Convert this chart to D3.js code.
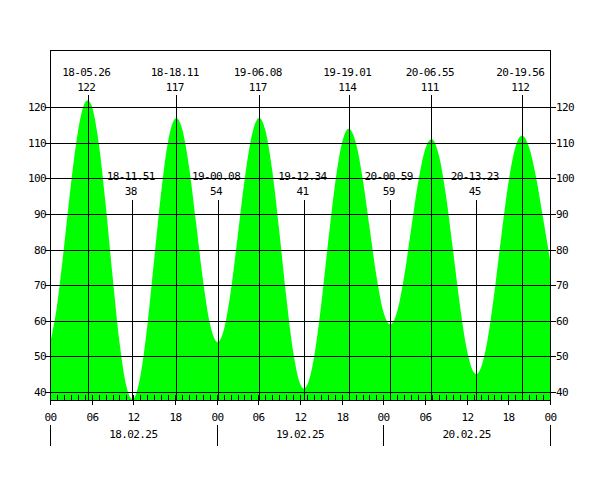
<!DOCTYPE html>
<html><head><meta charset="utf-8">
<script src="https://cdn.jsdelivr.net/npm/d3@7"></script>
<style>body{margin:0;background:#fff}</style>
</head><body><svg id="c" width="600" height="500"></svg>
<script>
// hourly readings, 18.02.25 00:00 .. 21.02.25 00:00
const hourlyValues = [53.6,64.1,80.4,98.1,112.9,121.2,120.4,110.2,93.0,72.7,54.1,41.6,
  38.1,44.3,58.4,77.2,96.0,110.4,116.8,114.1,103.6,88.1,71.9,59.5,
  54.1,57.2,67.9,83.3,99.3,111.6,116.9,113.6,102.3,85.5,67.1,51.6,
  42.4,41.8,49.5,63.7,81.2,97.7,109.6,114.0,110.4,100.3,86.5,72.7,
  62.6,59.0,62.7,72.5,85.7,98.7,108.0,111.0,106.5,95.5,80.4,64.8,
  52.2,45.6,46.5,54.6,68.1,84.0,98.6,108.7,112.0,108.7,100.3,88.9,77.2];
const extremeLabels = ["18-05.26","18-11.51","18-18.11","19-00.08","19-06.08","19-12.34","19-19.01","20-00.59","20-06.55","20-13.23","20-19.56"];
const extremeValues = [122,38,117,54,117,41,114,59,111,45,112];
const extremeKinds = ["high","low","high","low","high","low","high","low","high","low","high"];
const dayLabels = ["18.02.25","19.02.25","20.02.25"];
const hourTickLabels = ["00","06","12","18"];
const yTicks = [40,50,60,70,80,90,100,110,120];

const L=50,R=550,T=50,B=400;
const FONT = "'DejaVu Sans Mono', monospace";
const svg = d3.select("#c");
const x = d3.scaleLinear().domain([0,72]).range([L,R]);
const y = d3.scaleLinear().domain([37.75,136.1]).range([B,T]);
const px = v => Math.round(v)+0.5;

function labelTime(s){
  const day=+s.slice(0,2), hh=+s.slice(3,5), mm=+s.slice(6,8);
  return (day-18)*24+hh+mm/60;
}
const extremes = extremeLabels.map((s,i)=>({label:s,t:labelTime(s),v:extremeValues[i],kind:extremeKinds[i]}));
const pts = hourlyValues.map((v,i)=>({t:i,v})).concat(extremes.map(e=>({t:e.t,v:e.v})))
  .sort((a,b)=>a.t-b.t);

svg.append("path").datum(pts)
  .attr("fill","#00ff00")
  .attr("d", d3.area().x(d=>x(d.t)).y0(B).y1(d=>y(d.v)).curve(d3.curveMonotoneX));

const g = svg.append("g").attr("stroke","#000").attr("stroke-width",1).attr("shape-rendering","crispEdges");
yTicks.forEach(v=>{
  g.append("line").attr("x1",45).attr("x2",556).attr("y1",px(y(v))).attr("y2",px(y(v)));
});
extremes.forEach(e=>{
  g.append("line").attr("x1",px(x(e.t))).attr("x2",px(x(e.t)))
    .attr("y1", e.kind==="high"?95:200).attr("y2",B);
});
d3.range(0,73).forEach(h=>{
  g.append("line").attr("x1",px(x(h))).attr("x2",px(x(h))).attr("y1",395).attr("y2",B);
  if(h%6===0) g.append("line").attr("x1",px(x(h))).attr("x2",px(x(h))).attr("y1",B).attr("y2",405);
});
g.append("line").attr("x1",L).attr("x2",R+1).attr("y1",T+0.5).attr("y2",T+0.5);
g.append("line").attr("x1",L).attr("x2",R+1).attr("y1",B+0.5).attr("y2",B+0.5);
g.append("line").attr("x1",L+0.5).attr("x2",L+0.5).attr("y1",T).attr("y2",405);
g.append("line").attr("x1",R+0.5).attr("x2",R+0.5).attr("y1",T).attr("y2",405);
d3.range(0,4).forEach(d=>{
  g.append("line").attr("x1",px(x(d*24))).attr("x2",px(x(d*24))).attr("y1",425).attr("y2",446);
});

const txt = svg.append("g").attr("font-family",FONT).attr("font-size","11px")
  .attr("letter-spacing","-0.6px").attr("fill","#000");
yTicks.forEach(v=>{
  txt.append("text").attr("x",46).attr("y",Math.round(y(v))+4).attr("text-anchor","end").text(v);
  txt.append("text").attr("x",556).attr("y",Math.round(y(v))+4).attr("text-anchor","start").text(v);
});
d3.range(0,73,6).forEach(h=>{
  txt.append("text").attr("x",Math.round(x(h))-5.5).attr("y",421).attr("text-anchor","start")
    .text(hourTickLabels[(h/6)%4]);
});
dayLabels.forEach((s,d)=>{
  txt.append("text").attr("x",x(d*24+12)).attr("y",438).attr("text-anchor","middle").text(s);
});
extremes.forEach(e=>{
  const hi = e.kind==="high";
  txt.append("text").attr("x",x(e.t)-1.5).attr("y",hi?76:180).attr("text-anchor","middle").text(e.label);
  txt.append("text").attr("x",x(e.t)-1.5).attr("y",hi?90.5:195).attr("text-anchor","middle").text(e.v);
});
</script></body></html>
